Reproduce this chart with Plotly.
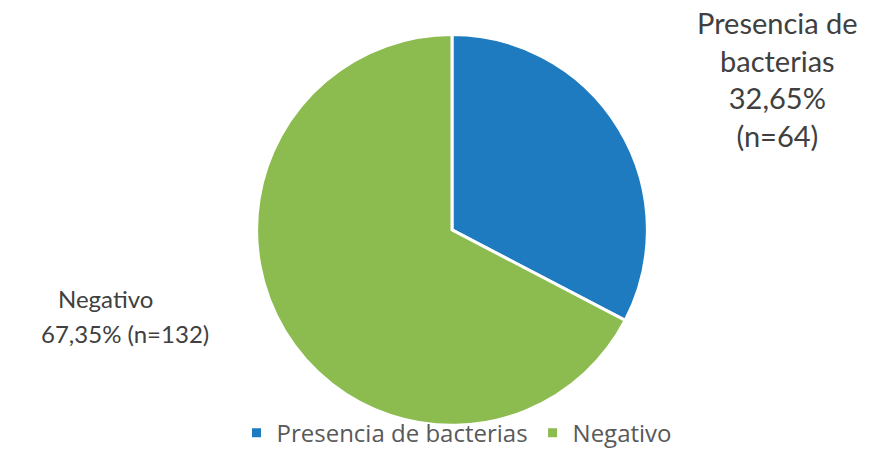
import plotly.graph_objects as go

categories = ["Presencia de bacterias", "Negativo"]
counts = [64, 132]
percent_labels = ["32,65%", "67,35%"]
colors = ["#1F7BBF", "#8CBB4F"]

W, H = 869, 456
FONT = "Lato, 'Open Sans', sans-serif"
TEXT_COLOR = "#404040"

fig = go.Figure(
    go.Pie(
        labels=categories,
        values=counts,
        sort=False,
        direction="clockwise",
        rotation=0,
        marker=dict(colors=colors, line=dict(color="white", width=3)),
        textinfo="none",
        hoverinfo="label+value+percent",
        domain=dict(x=[255 / W, 649 / W], y=[1 - 431 / H, 1 - 35 / H]),
    )
)


def note(x, y, text, size):
    fig.add_annotation(
        x=x / W, y=1 - y / H, xref="paper", yref="paper",
        xanchor="center", yanchor="middle",
        text=text, showarrow=False, align="center",
        font=dict(family=FONT, size=size, color=TEXT_COLOR),
    )


first, last = categories[0].rsplit(" ", 1)
note(777, 80, f"{first}<br>{last}<br>{percent_labels[0]}<br>(n={counts[0]})", 29)
note(105, 302, categories[1], 24)
note(125, 338, f"{percent_labels[1]} (n={counts[1]})", 24)

fig.update_layout(
    width=W, height=H,
    margin=dict(l=0, r=0, t=0, b=0),
    paper_bgcolor="white",
    plot_bgcolor="white",
    showlegend=True,
    legend=dict(
        orientation="h", x=457 / W, xanchor="center", y=1 - 439 / H, yanchor="middle",
        font=dict(family="'Open Sans', sans-serif", size=24, color="#595959"),
        bgcolor="rgba(0,0,0,0)",
        itemwidth=30, tracegroupgap=0,
    ),
)

fig.write_html("out.html")
